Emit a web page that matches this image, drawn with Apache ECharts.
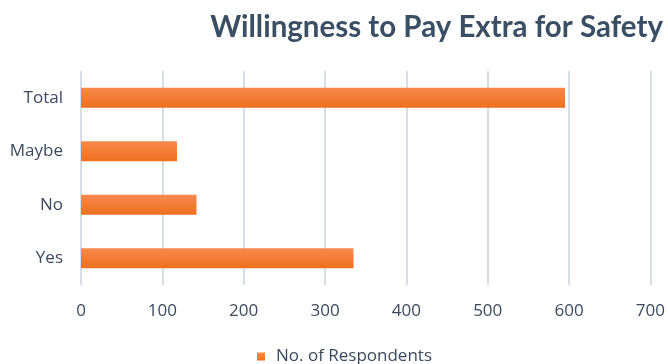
<!DOCTYPE html>
<html>
<head>
<meta charset="utf-8">
<script src="https://cdn.jsdelivr.net/npm/echarts@6/dist/echarts.min.js"></script>
<style>
  html, body { margin: 0; padding: 0; background: #fff; }
  #chart { width: 668px; height: 364px; }
</style>
</head>
<body>
<div id="chart"></div>
<script>
const categories = ["Yes", "No", "Maybe", "Total"];
const respondents = [335, 142, 118, 595];
const xTicks = [0, 100, 200, 300, 400, 500, 600, 700];

const textColor = "#3b4a5e";
const chart = echarts.init(document.getElementById("chart"));

chart.setOption({
  animation: false,
  title: {
    text: "Willingness to Pay Extra for Safety",
    right: 0,
    top: 7,
    textStyle: {
      fontFamily: "Lato",
      fontWeight: "bold",
      fontSize: 29.5,
      color: "#3a4f66",
    },
  },
  legend: {
    top: 343,
    left: 252,
    itemWidth: 8,
    itemHeight: 8,
    icon: "rect",
    textStyle: {
      fontFamily: "Open Sans",
      fontSize: 17,
      color: textColor,
      padding: [0, 0, 0, 6],
    },
    data: ["No. of Respondents"],
  },
  grid: {
    left: 81,
    right: 16,
    top: 71,
    bottom: 79,
  },
  xAxis: {
    type: "value",
    min: xTicks[0],
    max: xTicks[xTicks.length - 1],
    interval: 100,
    axisLine: { show: false },
    axisTick: { show: false },
    axisLabel: {
      fontFamily: "Open Sans",
      fontSize: 17,
      color: textColor,
      margin: 18,
    },
    splitLine: { lineStyle: { color: "#d7dee6", width: 2 } },
  },
  yAxis: {
    type: "category",
    data: categories,
    axisLine: { show: false },
    axisTick: { show: false },
    axisLabel: {
      fontFamily: "Open Sans",
      fontSize: 17,
      color: textColor,
      margin: 18,
    },
  },
  series: [
    {
      name: "No. of Respondents",
      type: "bar",
      data: respondents,
      barWidth: 20,
      itemStyle: {
        color: new echarts.graphic.LinearGradient(0, 0, 0, 1, [
          { offset: 0, color: "#f68a4e" },
          { offset: 1, color: "#ee701f" },
        ]),
      },
    },
  ],
});
</script>
</body>
</html>
